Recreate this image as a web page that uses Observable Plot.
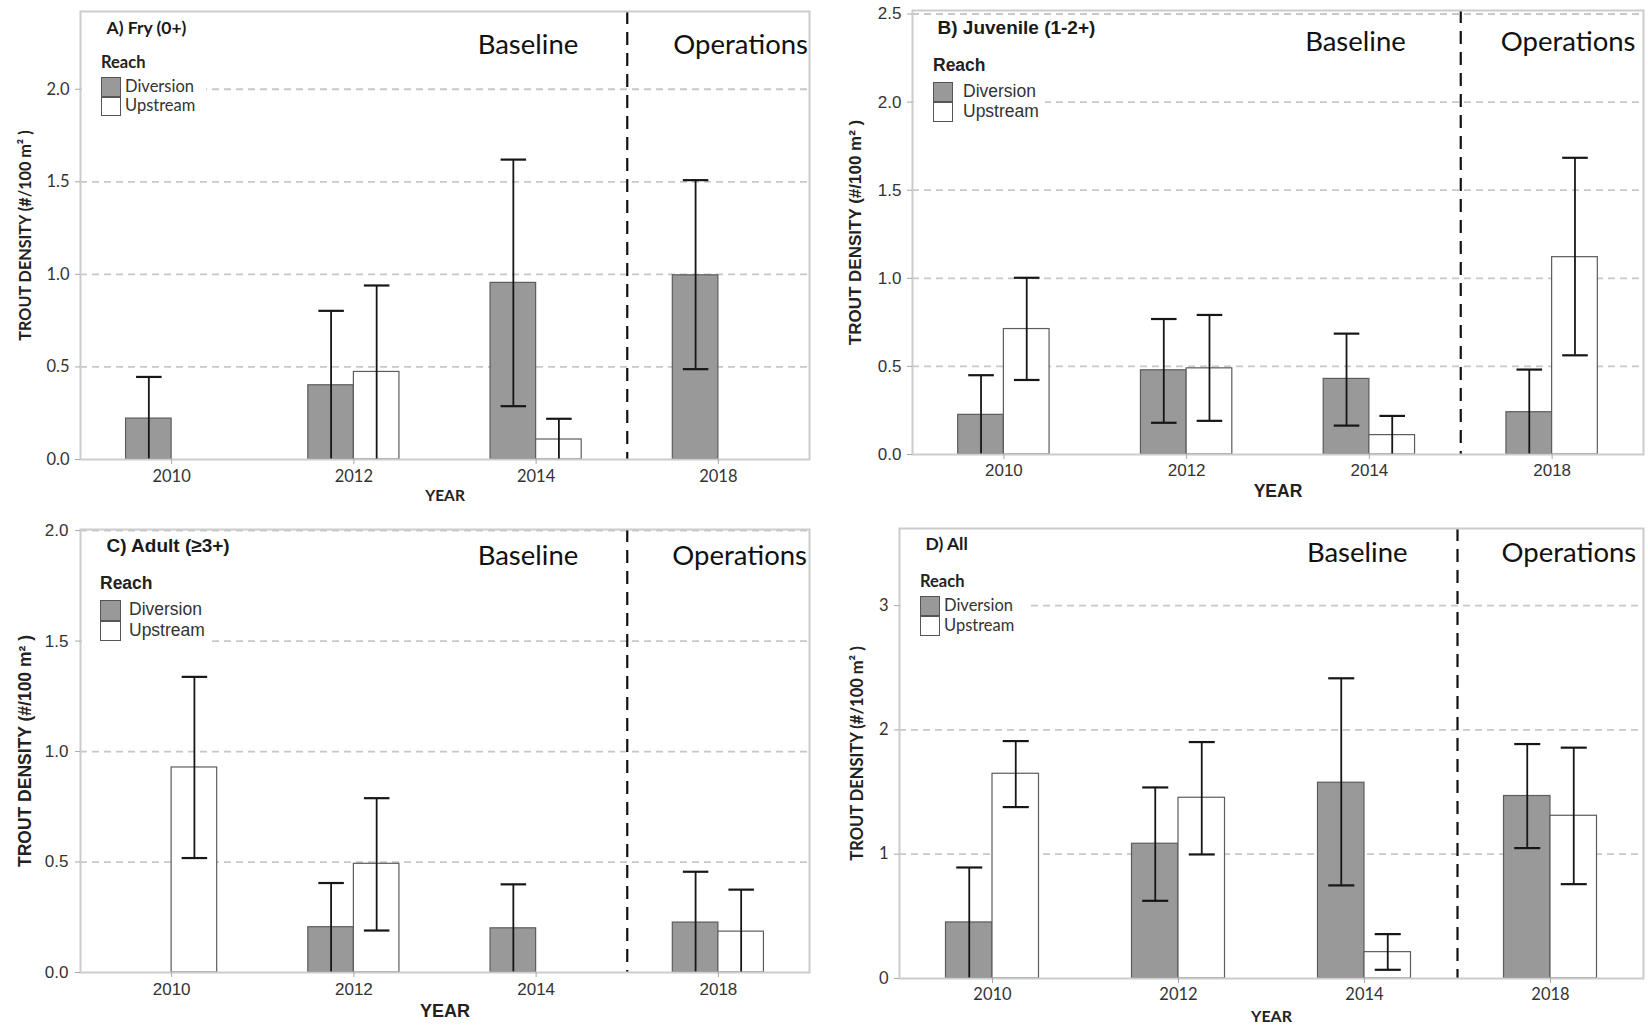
<!DOCTYPE html>
<html><head><meta charset="utf-8">
<script src="https://cdn.jsdelivr.net/npm/d3@7"></script>
<script src="https://cdn.jsdelivr.net/npm/@observablehq/plot@0.6"></script>
<style>
html,body{margin:0;padding:0;background:#fff;}
#page{position:relative;width:1648px;height:1026px;overflow:hidden;background:#fff;}
.panel{position:absolute;}
.lg{position:absolute;white-space:nowrap;color:#222;}
</style></head><body><div id="page"></div>
<script>
// ---------- data ----------
const years = ["2010", "2012", "2014", "2018"];
const periods = ["Baseline", "Baseline", "Baseline", "Operations"];
const reaches = ["Diversion", "Upstream"];
const reachFill = ["#999999", "#ffffff"];

// A) Fry (0+)
const fryDiversion = [0.221, 0.401, 0.954, 0.995];
const fryDiversionLow = [null, null, 0.288, 0.488];
const fryDiversionHigh = [0.446, 0.803, 1.62, 1.509];
const fryUpstream = [null, 0.473, 0.108, null];
const fryUpstreamLow = [null, null, null, null];
const fryUpstreamHigh = [null, 0.94, 0.22, null];

// B) Juvenile (1-2+)
const juvDiversion = [0.225, 0.478, 0.429, 0.24];
const juvDiversionLow = [null, 0.18, 0.164, null];
const juvDiversionHigh = [0.45, 0.769, 0.686, 0.482];
const juvUpstream = [0.712, 0.489, 0.11, 1.12];
const juvUpstreamLow = [0.423, 0.191, null, 0.563];
const juvUpstreamHigh = [1.003, 0.792, 0.219, 1.684];

// C) Adult (>=3+)
const adultDiversion = [null, 0.205, 0.2, 0.226];
const adultDiversionLow = [null, null, null, null];
const adultDiversionHigh = [null, 0.405, 0.399, 0.456];
const adultUpstream = [0.928, 0.492, null, 0.185];
const adultUpstreamLow = [0.518, 0.19, null, null];
const adultUpstreamHigh = [1.338, 0.789, null, 0.375];

// D) All
const allDiversion = [0.451, 1.084, 1.575, 1.468];
const allDiversionLow = [null, 0.625, 0.749, 1.049];
const allDiversionHigh = [0.893, 1.537, 2.415, 1.886];
const allUpstream = [1.647, 1.454, 0.212, 1.309];
const allUpstreamLow = [1.379, 0.998, 0.07, 0.759];
const allUpstreamHigh = [1.91, 1.902, 0.357, 1.857];

const yTicksA = [0, 0.5, 1.0, 1.5, 2.0];
const yTicksB = [0, 0.5, 1.0, 1.5, 2.0, 2.5];
const yTicksC = [0, 0.5, 1.0, 1.5, 2.0];
const yTicksD = [0, 1, 2, 3];

const yTitle = "TROUT DENSITY (#/100 m\u00B2 )";
const xTitle = "YEAR";
const legendTitle = "Reach";

// ---------- drawing ----------
const page = document.getElementById("page");
const breakAt = periods.indexOf("Operations") - 0.5;

function panel(cfg) {
  const rows = [];
  years.forEach((year, i) => {
    reaches.forEach((reach, k) => {
      rows.push({i, k, reach, v: cfg.values[k][i], lo: cfg.low[k][i], hi: cfg.high[k][i]});
    });
  });
  const bw = 0.25, cap = 0.07;
  const left = d => d.i + (d.k - 1) * bw;
  const right = d => d.i + d.k * bw;
  const mid = d => d.i + (d.k - 0.5) * bw;
  const bars = rows.filter(d => d.v != null);
  const errs = rows.filter(d => d.hi != null);
  const lows = errs.filter(d => d.lo != null);
  const f = cfg.font;
  const ink = "#161616";
  const plot = Plot.plot({
    width: cfg.width, height: cfg.height,
    marginTop: cfg.m[0], marginRight: cfg.m[1], marginBottom: cfg.m[2], marginLeft: cfg.m[3],
    x: {type: "linear", domain: [-0.5, years.length - 0.5], axis: null},
    y: {domain: cfg.yDomain, axis: null},
    color: {domain: reaches, range: reachFill},
    style: {fontFamily: f, background: "transparent", overflow: "visible", color: "#222"},
    marks: [
      Plot.ruleY(cfg.yTicks.filter(t => t > 0), {stroke: "#c8c8c8", strokeWidth: 1.8, strokeDasharray: "7,5"}),
      Plot.ruleX([breakAt], {stroke: "#111", strokeWidth: 2.2, strokeDasharray: "13,8"}),
      Plot.rect(bars, {x1: left, x2: right, y1: d => 0, y2: "v", fill: "reach", stroke: "#5c5c5c", strokeWidth: 1.2}),
      Plot.ruleX(errs, {x: mid, y1: d => d.lo ?? 0, y2: "hi", stroke: ink, strokeWidth: 1.8}),
      Plot.link(errs, {x1: d => mid(d) - cap, x2: d => mid(d) + cap, y1: "hi", y2: "hi", stroke: ink, strokeWidth: 2.2}),
      Plot.link(lows, {x1: d => mid(d) - cap, x2: d => mid(d) + cap, y1: "lo", y2: "lo", stroke: ink, strokeWidth: 2.2}),
      Plot.frame({stroke: "#cccccc", strokeWidth: 2}),
      Plot.axisY({ticks: cfg.yTicks, tickFormat: cfg.yFormat, tickSize: 5, tickPadding: cfg.yPad,
        stroke: "#a8a8a8", fill: "#333", fontSize: cfg.tick, label: null}),
      Plot.axisX({ticks: years.map((_, i) => i), tickFormat: i => years[i], tickSize: 5, tickPadding: cfg.xPad,
        stroke: "#a8a8a8", fill: "#333", fontSize: cfg.tick, label: null}),
      Plot.text([yTitle], {text: d => d, frameAnchor: "left", rotate: -90, dx: cfg.yTitleX - cfg.m[3],
        textAnchor: "middle", lineAnchor: "middle",
        fontSize: cfg.yTitleSize, fontWeight: "bold", fill: "#222"}),
      Plot.text([xTitle], {text: d => d, frameAnchor: "bottom", dy: cfg.xTitleDy, lineAnchor: "middle",
        fontSize: cfg.xTitleSize, fontWeight: "bold", fill: "#222"}),
      Plot.text([cfg.label], {text: d => d, frameAnchor: "top-left", dx: cfg.labelX - cfg.m[3], dy: cfg.labelDy,
        textAnchor: "start", lineAnchor: "middle", fontSize: cfg.labelSize, fontWeight: "bold", fill: "#1a1a1a"}),
      Plot.text(["Baseline"], {text: d => d, x: d => breakAt, frameAnchor: "top", dx: -cfg.periodGap[0], dy: cfg.periodDy,
        textAnchor: "end", lineAnchor: "middle", fontFamily: "Lato", fontSize: 27.5, fill: "#111"}),
      Plot.text(["Operations"], {text: d => d, x: d => breakAt, frameAnchor: "top", dx: cfg.periodGap[1], dy: cfg.periodDy,
        textAnchor: "start", lineAnchor: "middle", fontFamily: "Lato", fontSize: 27.5, fill: "#111"})
    ]
  });
  plot.classList.add("panel");
  plot.style.left = cfg.left + "px";
  plot.style.top = cfg.top + "px";
  page.appendChild(plot);

  // legend (inside the panel, over the grid)
  const L = cfg.legend;
  const box = document.createElement("div");
  box.className = "lg";
  Object.assign(box.style, {left: L.box[0] + "px", top: L.box[1] + "px", width: (L.box[2] - L.box[0]) + "px",
    height: (L.box[3] - L.box[1]) + "px", background: "#fff"});
  page.appendChild(box);
  const t = document.createElement("div");
  t.className = "lg";
  t.textContent = legendTitle;
  Object.assign(t.style, {left: L.x + "px", top: (L.titleY - L.size * 0.6) + "px", font: `bold ${L.size}px ${f}`,
    lineHeight: (L.size * 1.2) + "px"});
  page.appendChild(t);
  reaches.forEach((r, k) => {
    const sw = document.createElement("div");
    sw.className = "lg";
    Object.assign(sw.style, {left: L.x + "px", top: (L.swTop + k * L.sw) + "px", width: L.sw + "px", height: L.sw + "px",
      background: reachFill[k], border: "1.5px solid #555", boxSizing: "border-box"});
    page.appendChild(sw);
    const lb = document.createElement("div");
    lb.className = "lg";
    lb.textContent = r;
    Object.assign(lb.style, {left: L.labelX + "px", top: (L.swTop + k * L.sw + L.sw / 2 - L.size * 0.62) + "px",
      font: `${L.size}px ${f}`, lineHeight: (L.size * 1.2) + "px", color: "#333"});
    page.appendChild(lb);
  });
}

const calibri = "Lato, 'Open Sans', sans-serif";
const arial = "'Liberation Sans', Arial, sans-serif";

panel({
  left: 0, top: 0, width: 820, height: 510, m: [11, 11, 51, 80],
  values: [fryDiversion, fryUpstream], low: [fryDiversionLow, fryUpstreamLow], high: [fryDiversionHigh, fryUpstreamHigh],
  yDomain: [0, 2.42], yTicks: yTicksA, yFormat: d3.format(".1f"), font: calibri, tick: 16.5, yPad: 6, xPad: 6,
  yTitleX: 25, yTitleSize: 16.2, xTitleDy: 37, xTitleSize: 15.5,
  label: "A) Fry (0+)", labelX: 106, labelDy: 17, labelSize: 17.5,
  periodDy: 34, periodGap: [49, 46],
  legend: {box: [82, 46, 206, 120], x: 101, titleY: 63, swTop: 77, sw: 19.5, labelX: 125, size: 16.5}
});

panel({
  left: 828, top: 0, width: 820, height: 510, m: [10, 5, 56, 84],
  values: [juvDiversion, juvUpstream], low: [juvDiversionLow, juvUpstreamLow], high: [juvDiversionHigh, juvUpstreamHigh],
  yDomain: [0, 2.52], yTicks: yTicksB, yFormat: d3.format(".1f"), font: arial, tick: 17, yPad: 6, xPad: 4,
  yTitleX: 27, yTitleSize: 17, xTitleDy: 37, xTitleSize: 17.5,
  label: "B) Juvenile (1-2+)", labelX: 937 - 828, labelDy: 17, labelSize: 19,
  periodDy: 32, periodGap: [55, 40],
  legend: {box: [914, 48, 1045, 126], x: 933, titleY: 65, swTop: 82, sw: 20, labelX: 963, size: 17.5}
});

panel({
  left: 0, top: 510, width: 820, height: 516, m: [19, 11, 54, 80],
  values: [adultDiversion, adultUpstream], low: [adultDiversionLow, adultUpstreamLow], high: [adultDiversionHigh, adultUpstreamHigh],
  yDomain: [0, 2.005], yTicks: yTicksC, yFormat: d3.format(".1f"), font: arial, tick: 17, yPad: 7, xPad: 5,
  yTitleX: 25, yTitleSize: 17.5, xTitleDy: 39, xTitleSize: 18,
  label: "C) Adult (\u22653+)", labelX: 106, labelDy: 16, labelSize: 19,
  periodDy: 27, periodGap: [49, 45],
  legend: {box: [82, 566, 212, 645], x: 100, titleY: 583, swTop: 600, sw: 20.5, labelX: 129, size: 17.5}
});

panel({
  left: 828, top: 510, width: 820, height: 516, m: [18, 5, 48, 71],
  values: [allDiversion, allUpstream], low: [allDiversionLow, allUpstreamLow], high: [allDiversionHigh, allUpstreamHigh],
  yDomain: [0, 3.62], yTicks: yTicksD, yFormat: d3.format("d"), font: calibri, tick: 16.5, yPad: 6, xPad: 4.5,
  yTitleX: 29, yTitleSize: 16.5, xTitleDy: 38, xTitleSize: 16,
  label: "D) All", labelX: 925 - 828, labelDy: 16, labelSize: 17.5,
  periodDy: 25, periodGap: [50, 44],
  legend: {box: [901, 566, 1028, 640], x: 920, titleY: 582, swTop: 596, sw: 20, labelX: 944, size: 16.5}
});
</script></body></html>
